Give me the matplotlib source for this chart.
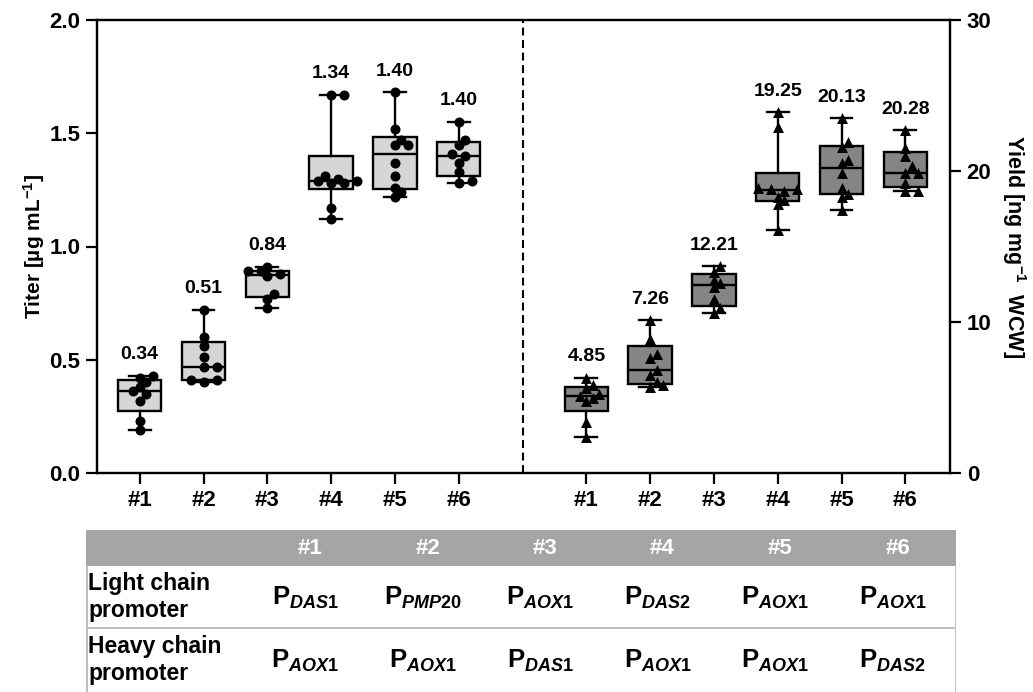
import numpy as np
import matplotlib
matplotlib.use('Agg')
import matplotlib.pyplot as plt
from matplotlib.patches import Rectangle

plt.rcParams['font.family'] = ['Liberation Sans', 'DejaVu Sans']
plt.rcParams['font.weight'] = 'bold'
plt.rcParams['mathtext.fontset'] = 'custom'
plt.rcParams['mathtext.rm'] = 'Liberation Sans:bold'
plt.rcParams['mathtext.bf'] = 'Liberation Sans:bold'
plt.rcParams['mathtext.it'] = 'Liberation Sans:italic:bold'

# ---------------------------------------------------------------------------
# data
# ---------------------------------------------------------------------------
clones = ['#1', '#2', '#3', '#4', '#5', '#6']

titer = [
    [0.19, 0.23, 0.32, 0.35, 0.36, 0.38, 0.40, 0.42, 0.43],
    [0.40, 0.41, 0.41, 0.47, 0.47, 0.51, 0.56, 0.60, 0.72],
    [0.73, 0.77, 0.79, 0.87, 0.88, 0.89, 0.89, 0.91],
    [1.12, 1.17, 1.28, 1.28, 1.29, 1.29, 1.30, 1.31, 1.67, 1.67],
    [1.22, 1.24, 1.26, 1.31, 1.37, 1.45, 1.45, 1.47, 1.52, 1.68],
    [1.28, 1.29, 1.33, 1.37, 1.40, 1.41, 1.45, 1.47, 1.55],
]
titer_mean = [0.34, 0.51, 0.84, 1.34, 1.40, 1.40]

yield_wcw = [
    [2.4, 3.4, 4.8, 5.0, 5.1, 5.2, 5.6, 5.8, 6.3],
    [5.7, 5.8, 6.0, 6.5, 6.8, 7.6, 7.9, 8.9, 10.1],
    [10.6, 10.9, 11.5, 12.3, 12.8, 12.6, 13.3, 13.7],
    [16.1, 17.8, 18.1, 18.3, 18.7, 18.8, 18.8, 18.9, 22.9, 23.9],
    [17.4, 18.3, 18.5, 18.9, 19.9, 20.5, 20.7, 21.6, 21.9, 23.5],
    [18.7, 18.7, 19.2, 19.9, 19.9, 20.3, 21.0, 21.5, 22.7],
]
yield_mean = [4.85, 7.26, 12.21, 19.25, 20.13, 20.28]

light_promoter = ['DAS1', 'PMP20', 'AOX1', 'DAS2', 'AOX1', 'AOX1']
heavy_promoter = ['AOX1', 'AOX1', 'DAS1', 'AOX1', 'AOX1', 'DAS2']
row_labels = ['Light chain\npromoter', 'Heavy chain\npromoter']

# ---------------------------------------------------------------------------
W, H = 1033, 692
fig = plt.figure(figsize=(W / 100, H / 100), dpi=100)
ax = fig.add_axes([97 / W, 1 - 473 / H, 853 / W, 453 / H])
ax2 = ax.twinx()

pos_left = np.arange(1, 7)
pos_right = np.arange(8, 14)

ax.set_xlim(0.33, 13.7)
ax.set_ylim(0, 2.0)
ax2.set_ylim(0, 30)


def box_stats(groups):
    stats = []
    for v in groups:
        q1, med, q3 = np.percentile(v, [25, 50, 75], method='weibull')
        stats.append(dict(med=med, q1=q1, q3=q3, whislo=min(v), whishi=max(v), fliers=[]))
    return stats


def swarm(axis, x0, vals, size_px=7.0, step_px=6.5):
    """Simple beeswarm: spread points sideways in display space."""
    pts = axis.transData.transform(np.column_stack([np.full(len(vals), x0), vals]))
    placed = []
    xs = np.zeros(len(vals))
    for i in np.argsort(vals):
        px, py = pts[i]
        k = 0
        while True:
            off = ((k + 1) // 2) * step_px * (1 if k % 2 == 1 else -1)
            if all(np.hypot(px + off - qx, py - qy) >= size_px for qx, qy in placed):
                break
            k += 1
        placed.append((px + off, py))
        xs[i] = axis.transData.inverted().transform((px + off, py))[0]
    return xs


lw = 1.7
common = dict(widths=0.68, capwidths=0.34, patch_artist=True, showfliers=False,
              manage_ticks=False,
              medianprops=dict(color='black', linewidth=lw),
              whiskerprops=dict(color='black', linewidth=lw),
              capprops=dict(color='black', linewidth=lw))

ax.bxp(box_stats(titer), positions=pos_left, zorder=2,
       boxprops=dict(facecolor='#d6d6d6', edgecolor='black', linewidth=lw), **common)
ax2.bxp(box_stats(yield_wcw), positions=pos_right, zorder=2,
        boxprops=dict(facecolor='#858585', edgecolor='black', linewidth=lw), **common)

for p, v, m in zip(pos_left, titer, titer_mean):
    ax.scatter(swarm(ax, p, v), v, s=52, marker='o', color='black', zorder=4, linewidths=0)
    ax.annotate(f'{m:.2f}', (p, max(v)), xytext=(0, 9), textcoords='offset points',
                ha='center', va='bottom', fontsize=14, fontweight='bold')

for p, v, m in zip(pos_right, yield_wcw, yield_mean):
    ax2.scatter(swarm(ax2, p, v), v, s=62, marker='^', color='black', zorder=4, linewidths=0)
    ax2.annotate(f'{m:.2f}', (p, max(v)), xytext=(0, 9), textcoords='offset points',
                 ha='center', va='bottom', fontsize=14, fontweight='bold')

ax.axvline(7, color='black', linestyle=(0, (3.8, 2.2)), linewidth=1.5, zorder=1)

# axes styling
ax.set_xticks(np.concatenate([pos_left, pos_right]))
ax.set_xticklabels(clones + clones)
ax.set_yticks([0, 0.5, 1.0, 1.5, 2.0])
ax.set_yticklabels(['0.0', '0.5', '1.0', '1.5', '2.0'])
ax2.set_yticks([0, 10, 20, 30])
for a in (ax, ax2):
    for sp in a.spines.values():
        sp.set_linewidth(1.6)
    a.tick_params(width=1.6, length=8, labelsize=16, direction='out', pad=4)

ax.set_ylabel('Titer [µg mL$^{-1}$]', fontsize=15, fontweight='bold')
ax.yaxis.set_label_coords(-0.059, 0.5)
ax2.set_ylabel('Yield [ng mg$^{-1}$  WCW]', fontsize=15.5, fontweight='bold',
               rotation=270, va='center')
ax2.yaxis.set_label_coords(1.075, 0.5)

# ---------------------------------------------------------------------------
# promoter table below the chart (pixel coordinates)
# ---------------------------------------------------------------------------
tx0, tx1, ty0, ty1 = 86, 956, 530, 692
tab = fig.add_axes([tx0 / W, 0, (tx1 - tx0) / W, (ty1 - ty0) / H])
tab.set_xlim(tx0, tx1)
tab.set_ylim(ty1, ty0)
tab.axis('off')

header_bottom, row_split = 566, 628
col_x = [310 + 117.5 * i for i in range(6)]
tab.add_patch(Rectangle((tx0, ty0), tx1 - tx0, header_bottom - ty0,
                        facecolor='#a5a5a5', edgecolor='none'))
for cx, c in zip(col_x, clones):
    tab.text(cx, (ty0 + header_bottom) / 2, c, ha='center', va='center',
             color='white', fontsize=16, fontweight='bold')

grid = '#bdbdbd'
tab.plot([tx0, tx1], [row_split, row_split], color=grid, lw=1.4)
tab.plot([tx0 + 0.5, tx0 + 0.5], [header_bottom, ty1], color=grid, lw=1.4)
tab.plot([tx1 - 0.5, tx1 - 0.5], [header_bottom, ty1], color=grid, lw=1.4)

row_y = [(header_bottom + row_split) / 2, (row_split + ty1) / 2]
for ry, lab, proms in zip(row_y, row_labels, [light_promoter, heavy_promoter]):
    tab.text(tx0 + 2, ry, lab, ha='left', va='center', fontsize=16.5,
             fontweight='bold', linespacing=1.2)
    for cx, pr in zip(col_x, proms):
        tab.text(cx - 5, ry + 1, r'$\mathrm{P}_{\mathit{%s}}$' % pr, ha='center',
                 va='center', fontsize=18.5)

fig.savefig('out.png', dpi=100)
